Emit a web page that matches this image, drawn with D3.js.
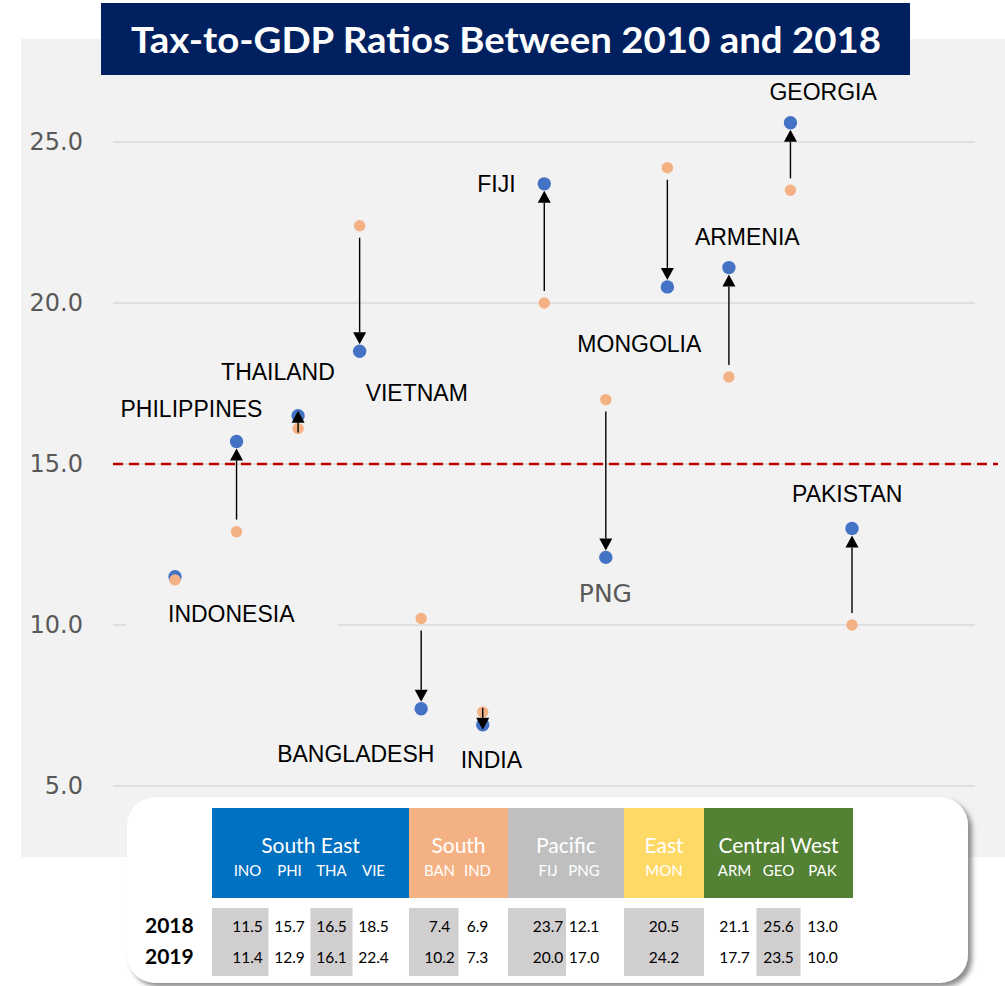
<!DOCTYPE html>
<html>
<head>
<meta charset="utf-8">
<script src="https://cdn.jsdelivr.net/npm/d3@7"></script>
<style>
  body { margin: 0; background: #fff; }
  svg { display: block; }
</style>
</head>
<body>
<script>
// country codes, names and the two series
var codes = ["INO", "PHI", "THA", "VIE", "BAN", "IND", "FIJ", "PNG", "MON", "ARM", "GEO", "PAK"];
var names = ["INDONESIA", "PHILIPPINES", "THAILAND", "VIETNAM", "BANGLADESH", "INDIA",
             "FIJI", "PNG", "MONGOLIA", "ARMENIA", "GEORGIA", "PAKISTAN"];
var values2018 = [11.5, 15.7, 16.5, 18.5, 7.4, 6.9, 23.7, 12.1, 20.5, 21.1, 25.6, 13.0];
var values2019 = [11.4, 12.9, 16.1, 22.4, 10.2, 7.3, 20.0, 17.0, 24.2, 17.7, 23.5, 10.0];
var yTicks = [5, 10, 15, 20, 25];
var threshold = 15;

// regional groups for the table
var groups = ["South East", "South", "Pacific", "East", "Central West"];
var groupSizes = [4, 2, 2, 1, 3];
var groupColors = ["#0070c0", "#f4b183", "#bfbfbf", "#ffd966", "#548235"];
var rowLabels = ["2018", "2019"];

// label placement relative to each 2018 point (annotation offsets)
var labelOffsets = [[-7, 45], [-116, -24], [-77, -36], [6, 50], [-144, 53], [-22, 43],
                    [-67, 8], [-27, 45], [-90, 65], [-34, -23], [-21, -23], [-60, -26]];

var width = 1005, height = 986;
var svg = d3.select("body").append("svg")
    .attr("width", width)
    .attr("height", height);

var defs = svg.append("defs");
defs.append("filter").attr("id", "shadow")
    .attr("x", "-5%").attr("y", "-10%").attr("width", "112%").attr("height", "125%")
  .append("feDropShadow")
    .attr("dx", 4).attr("dy", 4).attr("stdDeviation", 2.5)
    .attr("flood-color", "#808080").attr("flood-opacity", 0.9);

// grey plot panel
svg.append("rect")
    .attr("x", 21).attr("y", 39)
    .attr("width", width - 21).attr("height", 818)
    .attr("fill", "#f2f2f2");

var x = d3.scalePoint().domain(codes).range([175, 852]);
var y = d3.scaleLinear().domain([5, 25]).range([786, 142]);

var gridLeft = 113, gridRight = 975;

// gridlines
svg.append("g").selectAll("line")
    .data(yTicks)
    .enter().append("line")
    .attr("x1", gridLeft).attr("x2", gridRight)
    .attr("y1", function(d) { return y(d); })
    .attr("y2", function(d) { return y(d); })
    .attr("stroke", "#d9d9d9")
    .attr("stroke-width", 1.5);

// y axis labels
var yAxis = svg.append("g")
    .attr("transform", "translate(" + gridLeft + ",0)")
    .call(d3.axisLeft(y).tickValues(yTicks).tickSize(0).tickPadding(30).tickFormat(d3.format(".1f")));
yAxis.select(".domain").remove();
yAxis.selectAll("text")
    .attr("font-family", "DejaVu Sans")
    .attr("font-size", 24)
    .attr("fill", "#595959");

// threshold line
svg.append("line")
    .attr("x1", gridLeft).attr("x2", 998)
    .attr("y1", y(threshold)).attr("y2", y(threshold))
    .attr("stroke", "#c00000")
    .attr("stroke-width", 2.5)
    .attr("stroke-dasharray", "10,6");

var rows = codes.map(function(c, i) {
  return { code: c, name: names[i], v18: values2018[i], v19: values2019[i], off: labelOffsets[i] };
});

// label backgrounds (hide gridlines behind text boxes)
var labelFont = "'Liberation Sans', Arial, sans-serif";
var labelG = svg.append("g");
var labels = svg.append("g");

// dots
svg.append("g").selectAll("circle")
    .data(rows).enter().append("circle")
    .attr("cx", function(d) { return x(d.code); })
    .attr("cy", function(d) { return y(d.v18); })
    .attr("r", 6.7)
    .attr("fill", "#4472c4");
svg.append("g").selectAll("circle")
    .data(rows).enter().append("circle")
    .attr("cx", function(d) { return x(d.code); })
    .attr("cy", function(d) { return y(d.v19); })
    .attr("r", 5.7)
    .attr("fill", "#f4b183");

// arrows from 2019 to 2018 values
var arrows = svg.append("g");
rows.forEach(function(d) {
  var cx = x(d.code), y0 = y(d.v19), y1 = y(d.v18);
  var dir = y1 > y0 ? 1 : -1;
  var len = Math.abs(y1 - y0);
  if (len < 6) return;
  var start, tip;
  if (len > 30) { start = y0 + dir * 12; tip = y1 - dir * 7; }
  else { start = y0 - dir * 4; tip = y1 + dir * 5; }
  var headH = 12, headW = 6.5;
  var base = tip - dir * headH;
  arrows.append("line")
      .attr("x1", cx).attr("x2", cx)
      .attr("y1", start).attr("y2", base)
      .attr("stroke", "#000").attr("stroke-width", 1.4);
  arrows.append("path")
      .attr("d", "M" + cx + "," + tip + "L" + (cx - headW) + "," + base + "L" + (cx + headW) + "," + base + "Z")
      .attr("fill", "#000");
});

// country labels
labels.selectAll("text")
    .data(rows).enter().append("text")
    .attr("x", function(d) { return x(d.code) + d.off[0]; })
    .attr("y", function(d) { return y(d.v18) + d.off[1]; })
    .attr("font-family", function(d) { return d.code === "PNG" ? "DejaVu Sans" : labelFont; })
    .attr("font-size", function(d) { return d.code === "PNG" ? 25 : 23; })
    .attr("fill", function(d) { return d.code === "PNG" ? "#595959" : "#000"; })
    .text(function(d) { return d.name; })
    .each(function() {
      var b = this.getBBox();
      labelG.append("rect")
          .attr("x", b.x - 42).attr("y", b.y)
          .attr("width", b.width + 84).attr("height", b.height + 2)
          .attr("fill", "#f2f2f2");
    });

// title
svg.append("rect")
    .attr("x", 101).attr("y", 3)
    .attr("width", 809).attr("height", 72)
    .attr("fill", "#002060");
svg.append("text")
    .attr("x", 506).attr("y", 53)
    .attr("text-anchor", "middle")
    .attr("font-family", "Lato, 'Open Sans', sans-serif")
    .attr("font-weight", "bold")
    .attr("font-size", 36)
    .attr("textLength", 750)
    .attr("lengthAdjust", "spacingAndGlyphs")
    .attr("fill", "#fff")
    .text("Tax-to-GDP Ratios Between 2010 and 2018");

// table box
var table = svg.append("g");
table.append("rect")
    .attr("x", 127).attr("y", 797)
    .attr("width", 841).attr("height", 186)
    .attr("rx", 28)
    .attr("fill", "#fff")
    .attr("filter", "url(#shadow)");

var tableFont = "Lato, 'Open Sans', sans-serif";
var blockWidths = [197, 99, 116, 80, 149];
var colSteps = [42, 38, 36, 0, 44];
var blockLeft = 212, headTop = 808, headBottom = 898;
var cellTop = 908, cellBottom = 976;

var cols = [];
var left = blockLeft, k = 0;
groups.forEach(function(g, gi) {
  var w = blockWidths[gi], n = groupSizes[gi], mid = left + w / 2;
  table.append("rect")
      .attr("x", left).attr("y", headTop)
      .attr("width", w).attr("height", headBottom - headTop)
      .attr("fill", groupColors[gi]);
  table.append("text")
      .attr("x", mid).attr("y", 853)
      .attr("text-anchor", "middle")
      .attr("font-family", tableFont)
      .attr("font-size", 21)
      .attr("fill", "#fff")
      .text(g);
  for (var i = 0; i < n; i++) {
    var cx = mid + (i - (n - 1) / 2) * colSteps[gi];
    var step = colSteps[gi] || w;
    cols.push({ idx: k, x: cx, left: i === 0 ? left : cx - step / 2,
                right: n === 1 ? left + w : cx + step / 2 });
    k++;
  }
  left += w;
});

// shaded cells on alternating columns
table.selectAll("rect.cell")
    .data(cols.filter(function(c) { return c.idx % 2 === 0; }))
    .enter().append("rect")
    .attr("class", "cell")
    .attr("x", function(c) { return c.left; })
    .attr("y", cellTop)
    .attr("width", function(c) { return c.right - c.left; })
    .attr("height", cellBottom - cellTop)
    .attr("fill", "#d0cece");

// column codes
table.selectAll("text.code")
    .data(cols).enter().append("text")
    .attr("class", "code")
    .attr("x", function(c) { return c.x; })
    .attr("y", 876)
    .attr("text-anchor", "middle")
    .attr("font-family", tableFont)
    .attr("font-size", 15)
    .attr("fill", "#fff")
    .text(function(c) { return codes[c.idx]; });

// values
[values2018, values2019].forEach(function(vals, r) {
  var yy = 932 + r * 31;
  table.append("text")
      .attr("x", 145).attr("y", yy + 1)
      .attr("font-family", tableFont)
      .attr("font-weight", "bold")
      .attr("font-size", 21)
      .attr("fill", "#000")
      .text(rowLabels[r]);
  table.append("g").selectAll("text")
      .data(cols).enter().append("text")
      .attr("x", function(c) { return c.x; })
      .attr("y", yy)
      .attr("text-anchor", "middle")
      .attr("font-family", tableFont)
      .attr("font-size", 15.5)
      .attr("fill", "#000")
      .text(function(c) { return d3.format(".1f")(vals[c.idx]); });
});
</script>
</body>
</html>
